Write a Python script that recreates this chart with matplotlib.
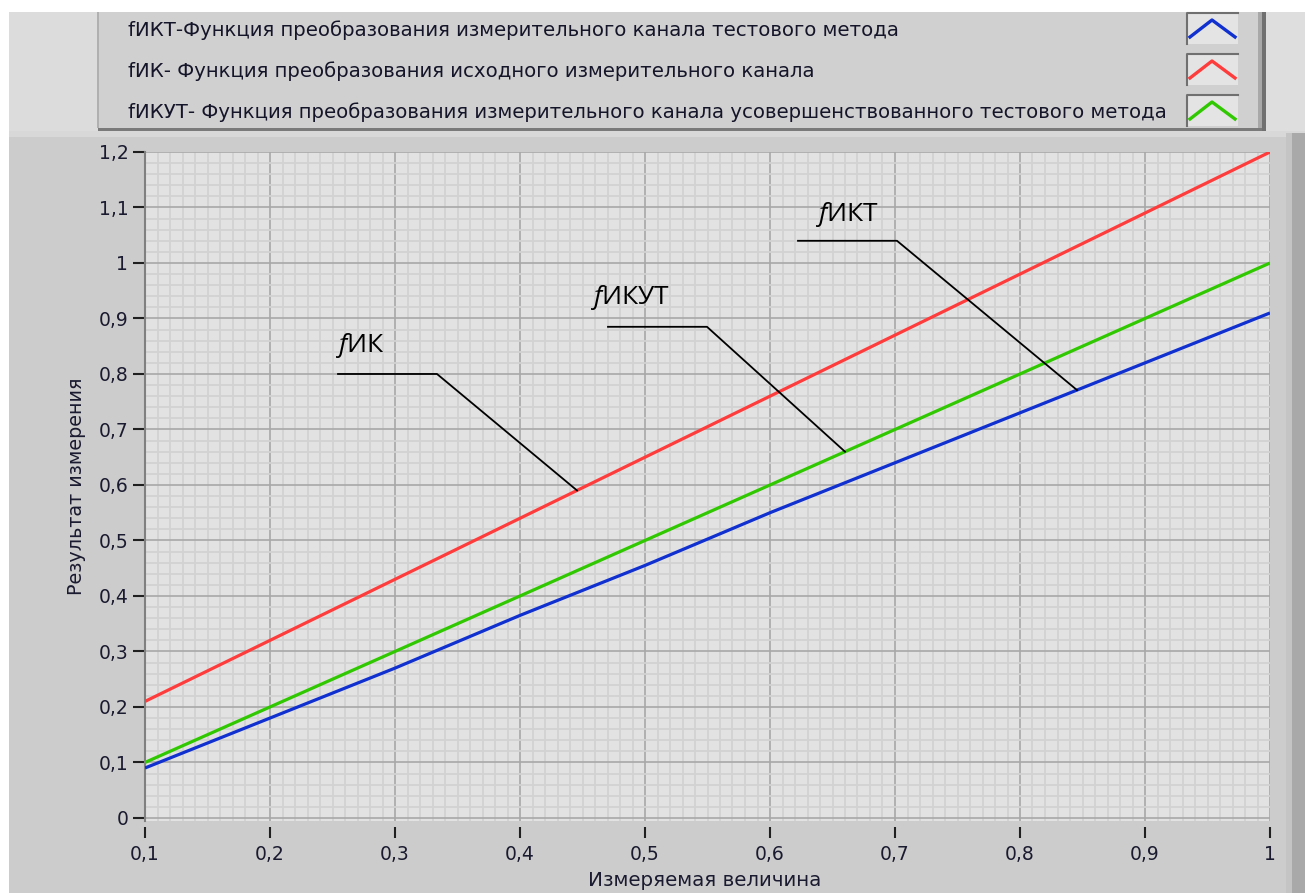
import numpy as np
import matplotlib
matplotlib.use("Agg")
import matplotlib.pyplot as plt
from matplotlib.patches import Rectangle
from matplotlib.lines import Line2D
from matplotlib.ticker import FuncFormatter, MultipleLocator

plt.rcParams["mathtext.fontset"] = "custom"
plt.rcParams["mathtext.it"] = "Open Sans:italic"
plt.rcParams["mathtext.rm"] = "Open Sans"

# ---------------- data ----------------
x_vals = [0.1, 0.2, 0.3, 0.4, 0.5, 0.6, 0.7, 0.8, 0.9, 1.0]
f_ikt = [0.09, 0.18, 0.27, 0.365, 0.455, 0.55, 0.64, 0.73, 0.82, 0.91]
f_ik = [0.21, 0.32, 0.43, 0.54, 0.65, 0.76, 0.87, 0.98, 1.09, 1.2]
f_ikut = [0.1, 0.2, 0.3, 0.4, 0.5, 0.6, 0.7, 0.8, 0.9, 1.0]

series_names = [
    "fИКТ-Функция преобразования измерительного канала тестового метода",
    "fИК- Функция преобразования исходного измерительного канала",
    "fИКУТ- Функция преобразования измерительного канала усовершенствованного тестового метода",
]
series_colors = ["#1030d0", "#ff3c3c", "#30c800"]
x_ticks = [0.1, 0.2, 0.3, 0.4, 0.5, 0.6, 0.7, 0.8, 0.9, 1.0]
y_ticks = [0, 0.1, 0.2, 0.3, 0.4, 0.5, 0.6, 0.7, 0.8, 0.9, 1.0, 1.1, 1.2]
x_label = "Измеряемая величина"
y_label = "Результат измерения"

# annotations: label suffix, text x, text y, start x, elbow x, elbow y, end x, series index
annot = [
    ("ИК", 0.252, 0.852, 0.2544, 0.3336, 0.800, 0.4456, 1),
    ("ИКУТ", 0.456, 0.937, 0.4704, 0.5496, 0.885, 0.660, 2),
    ("ИКТ", 0.636, 1.087, 0.6224, 0.7016, 1.040, 0.8456, 0),
]

# ---------------- figure ----------------
W, H = 1305, 893
fig = plt.figure(figsize=(W / 100, H / 100), dpi=100, facecolor="#cccccc")

def rect_px(x0, y0, x1, y1, color, z=0):
    fig.patches.append(Rectangle((x0 / W, 1 - y1 / H), (x1 - x0) / W, (y1 - y0) / H,
                                 transform=fig.transFigure, facecolor=color,
                                 edgecolor="none", zorder=z))

def line_px(xs, ys, color, lw):
    fig.lines.append(Line2D([x / W for x in xs], [1 - y / H for y in ys],
                            transform=fig.transFigure, color=color, lw=lw))

# backgrounds
rect_px(0, 0, W, 12, "white")
rect_px(0, 0, 9, H, "white")
rect_px(9, 12, 98, 131, "#dcdcdc")
rect_px(98, 12, 1258, 130, "#d0d0d0")
rect_px(1258, 12, 1262, 131, "#a8a8a8")
rect_px(1262, 12, 1266, 131, "#707070")
rect_px(1266, 12, W, 131, "#dedede")
rect_px(98, 128, 1262, 131, "#7a7a7a")
rect_px(97, 12, 99, 128, "#b0b0b0")
rect_px(9, 131, W, 137, "#d8d8d8")
rect_px(1292, 133, W, H, "#a9a9a9")
rect_px(1286, 133, 1292, H, "#c4c4c4")

# legend rows
row_y = [30, 71, 112]
box_y = [(12, 44), (53, 85), (94, 126)]
for i, name in enumerate(series_names):
    fig.text(128 / W, 1 - row_y[i] / H, name, fontsize=14.2, color="#15152a",
             va="center", ha="left", family="DejaVu Sans")
    y0, y1 = box_y[i]
    rect_px(1186, y0, 1238, y1, "#e4e4e4")
    line_px([1187, 1187, 1238], [y1, y0 + 1, y0 + 1], "#707070", 1.5)
    cy0, cy1 = y0 + 8, y1 - 7
    line_px([1190, 1212, 1235], [cy1, cy0, cy1], series_colors[i], 2.4)

# main axes
ax_l, ax_r, ax_t, ax_b = 145, 1270, 152, 821
ax = fig.add_axes([ax_l / W, 1 - ax_b / H, (ax_r - ax_l) / W, (ax_b - ax_t) / H])
ax.set_facecolor("#e2e2e2")
ax.set_xlim(0.1, 1.0)
ax.set_ylim(-0.0055, 1.2)

ax.xaxis.set_minor_locator(MultipleLocator(0.01))
ax.yaxis.set_minor_locator(MultipleLocator(0.02))
ax.set_xticks(x_ticks)
ax.set_yticks(y_ticks)

def fmt(v, pos):
    s = ("%.1f" % v)
    if s.endswith(".0"):
        s = s[:-2]
    return s.replace(".", ",")

ax.xaxis.set_major_formatter(FuncFormatter(fmt))
ax.yaxis.set_major_formatter(FuncFormatter(fmt))

ax.grid(which="minor", color="#d2d2d2", lw=1.3, zorder=0)
ax.grid(which="major", color="#a8a8a8", lw=1.2, zorder=0)
ax.set_axisbelow(True)

ax.spines["bottom"].set_position(("outward", 4))
ax.tick_params(axis="x", which="major", direction="out", length=8, pad=5, width=1.5,
               color="#202020", labelsize=13.5, labelcolor="#1a1a30")
ax.tick_params(axis="y", which="major", direction="out", length=9, pad=3, width=1.5,
               color="#202020", labelsize=13.5, labelcolor="#1a1a30")
ax.tick_params(which="minor", length=0)
for lbl in ax.get_xticklabels() + ax.get_yticklabels():
    lbl.set_family("DejaVu Sans")

for s in ["top", "right", "bottom"]:
    ax.spines[s].set_visible(False)
ax.spines["left"].set_color("#808080")
ax.spines["left"].set_linewidth(1.5)

series = [f_ikt, f_ik, f_ikut]
for ys, c in zip(series, series_colors):
    ax.plot(x_vals, ys, color=c, lw=2.3, zorder=3, solid_capstyle="butt")

for suffix, tx, ty, sx, ex, ey, endx, si in annot:
    endy = float(np.interp(endx, x_vals, series[si]))
    ax.plot([sx, ex, endx], [ey, ey, endy], color="black", lw=1.3, zorder=4)
    ax.text(tx, ty, r"$\mathit{f}$" + suffix, fontsize=19, family="Open Sans",
            va="center", ha="left", color="black", zorder=5)

fig.text(705 / W, 1 - 880 / H, x_label, fontsize=14.3, color="#1a1a30",
         ha="center", va="center", family="DejaVu Sans")
fig.text(77 / W, 1 - 486 / H, y_label, fontsize=13.8, color="#1a1a30",
         ha="center", va="center", rotation=90, family="DejaVu Sans")

fig.savefig("out.png", dpi=100, facecolor=fig.get_facecolor())
